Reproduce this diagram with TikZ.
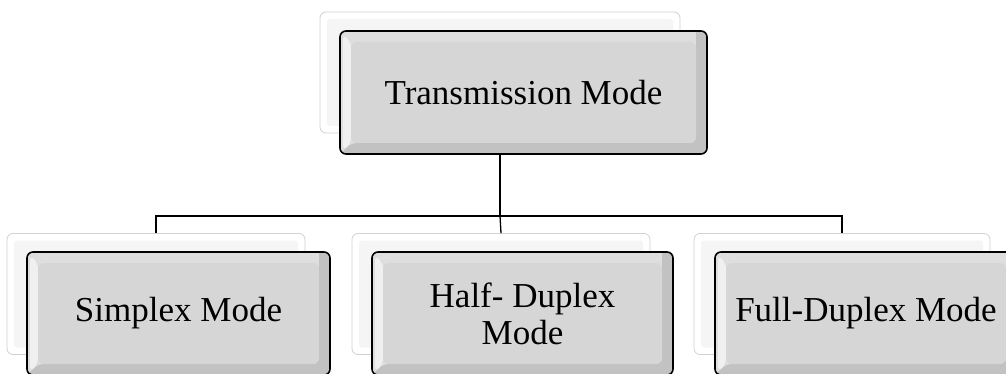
\documentclass[tikz,border=0pt]{standalone}
\usepackage{fontspec}
\setmainfont{Liberation Serif}
\begin{document}
\begin{tikzpicture}[x=1pt,y=-1pt,
  backbox/.style={draw=black!18, line width=0.8pt, fill=white, rounded corners=6pt,
    minimum width=#1, minimum height=121pt, inner sep=0pt,
    path picture={\fill[black!4, rounded corners=3pt]
      ([shift={(7pt,-7pt)}]path picture bounding box.north west) rectangle
      ([shift={(-7pt,7pt)}]path picture bounding box.south east);}},
  frontbox/.style={draw=black, line width=1.6pt, fill=black!13, rounded corners=6pt,
    minimum width=#1, minimum height=123pt, inner sep=0pt, align=center,
    font=\fontsize{35}{37}\selectfont,
    path picture={
      \fill[black!24]
        ([shift={(-11pt,11pt)}]path picture bounding box.north east) --
        (path picture bounding box.north east) --
        (path picture bounding box.south east) --
        (path picture bounding box.south west) --
        ([shift={(11pt,11pt)}]path picture bounding box.south west) --
        ([shift={(-11pt,11pt)}]path picture bounding box.south east) -- cycle;
      \fill[black!6]
        ([shift={(3pt,-3pt)}]path picture bounding box.north west) --
        ([shift={(11pt,-11pt)}]path picture bounding box.north west) --
        ([shift={(11pt,11pt)}]path picture bounding box.south west) --
        ([shift={(3pt,3pt)}]path picture bounding box.south west) -- cycle;
      \fill[black!16]
        ([shift={(11pt,-11pt)}]path picture bounding box.north west) rectangle
        ([shift={(-11pt,11pt)}]path picture bounding box.south east);}},
  link/.style={draw=black, line width=1.3pt}]
\useasboundingbox (0,0) rectangle (1006,374);
\clip (0,0) rectangle (1006,374);

% shadow boxes behind each mode
\node[backbox=360pt] (rootB) at (500,72.5) {};
\node[backbox=298pt] (simB) at (156,294) {};
\node[backbox=298pt] (halfB) at (501,294) {};
\node[backbox=296pt] (fullB) at (842,294) {};

% tree connectors
\coordinate (bar) at (500,216);
\draw[link] (rootB.south) -- (bar);
\draw[link] (simB.north) |- (bar) -| (fullB.north);
\draw[link] (bar) -- (halfB.north);

% mode boxes
\node[frontbox=367pt] (root) at (523.5,92.5) {Transmission Mode};
\node[frontbox=303pt] (sim) at (178.5,313.5) {Simplex Mode};
\node[frontbox=301pt] (half) at (522.5,313.5) {Half- Duplex\\Mode};
\node[frontbox=302pt] (full) at (866,313.5) {Full-Duplex Mode};
\end{tikzpicture}
\end{document}
